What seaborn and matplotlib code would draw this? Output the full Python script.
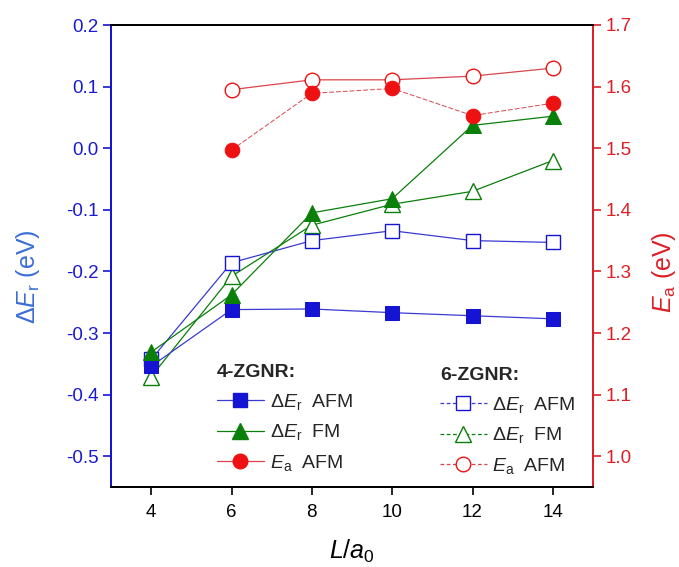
import matplotlib
matplotlib.use("Agg")
import matplotlib.pyplot as plt
import seaborn as sns
import numpy as np
import pandas as pd
from matplotlib.lines import Line2D

# ---- data ----
L = [4, 6, 8, 10, 12, 14]
L_ea = [6, 8, 10, 12, 14]
dEr_afm_4 = [-0.354, -0.262, -0.261, -0.267, -0.272, -0.277]
dEr_fm_4 = [-0.331, -0.238, -0.105, -0.082, 0.037, 0.052]
Ea_afm_4 = [1.497, 1.589, 1.597, 1.553, 1.573]
dEr_afm_6 = [-0.343, -0.186, -0.150, -0.134, -0.150, -0.153]
dEr_fm_6 = [-0.371, -0.208, -0.125, -0.091, -0.070, -0.020]
Ea_afm_6 = [1.595, 1.611, 1.611, 1.617, 1.630]
x_ticks = [4, 6, 8, 10, 12, 14]
left_ticks = [-0.5, -0.4, -0.3, -0.2, -0.1, 0.0, 0.1, 0.2]
right_ticks = [1.0, 1.1, 1.2, 1.3, 1.4, 1.5, 1.6, 1.7]

sns.set_theme(style="white")
plt.rcParams['font.family'] = ['Liberation Sans', 'DejaVu Sans']
plt.rcParams['mathtext.fontset'] = 'custom'
plt.rcParams['mathtext.rm'] = 'Liberation Sans'
plt.rcParams['mathtext.it'] = 'Liberation Sans:italic'
plt.rcParams['mathtext.bf'] = 'Liberation Sans:bold'

BLUE = '#1414d2'
BLUE_LINE = '#3a3ad0'
GREEN = '#0a7f0a'
RED = '#ee1111'
RED_LINE = '#d8454c'
TICK_BLUE = '#1a1ad0'
LABEL_BLUE = '#3b6fd6'
AX_RED = '#dd1f26'

fig = plt.figure(figsize=(6.79, 5.67), dpi=100)
ax = fig.add_axes([111/679, 1-487/567, (593-111)/679, (487-25)/567])
ax2 = ax.twinx()

lw = 0.9
# 6-ZGNR open markers (left axis)
sns.lineplot(x=L, y=dEr_fm_6, ax=ax, color=GREEN, linewidth=lw, marker='^',
             markersize=11, markerfacecolor='white', markeredgecolor=GREEN,
             markeredgewidth=1.0, zorder=3)
sns.lineplot(x=L, y=dEr_afm_6, ax=ax, color=BLUE_LINE, linewidth=lw, marker='s',
             markersize=9.5, markerfacecolor='white', markeredgecolor=BLUE,
             markeredgewidth=1.0, zorder=3)
# 4-ZGNR filled markers
sns.lineplot(x=L, y=dEr_afm_4, ax=ax, color=BLUE_LINE, linewidth=lw, marker='s',
             markersize=9.5, markerfacecolor=BLUE, markeredgecolor=BLUE, zorder=4)
sns.lineplot(x=L, y=dEr_fm_4, ax=ax, color=GREEN, linewidth=lw, marker='^',
             markersize=11, markerfacecolor=GREEN, markeredgecolor=GREEN, zorder=4)

# Ea on right axis
sns.lineplot(x=L_ea, y=Ea_afm_6, ax=ax2, color=RED_LINE, linewidth=lw, marker='o',
             markersize=10.5, markerfacecolor='white', markeredgecolor=RED,
             markeredgewidth=1.0)
sns.lineplot(x=L_ea, y=Ea_afm_4, ax=ax2, color=RED_LINE, linewidth=0.7, marker='o',
             markersize=10.5, markerfacecolor=RED, markeredgecolor=RED,
             linestyle=(0, (5, 2)))

ax.set_xlim(3, 15)
ax.set_ylim(-0.55, 0.2)
ax2.set_ylim(0.95, 1.7)
ax.set_xticks(x_ticks)
ax.set_yticks(left_ticks)
ax2.set_yticks(right_ticks)
ax.set_yticklabels([f"{v:.1f}" for v in left_ticks])
ax2.set_yticklabels([f"{v:.1f}" for v in right_ticks])
ax.set_xticklabels([str(v) for v in x_ticks])

for a in (ax, ax2):
    for s in a.spines.values():
        s.set_linewidth(1.3)
    a.spines['top'].set_color('black')
    a.spines['bottom'].set_color('black')
    a.spines['left'].set_color(BLUE)
    a.spines['right'].set_color(AX_RED)
    a.grid(False)

ax.tick_params(axis='x', direction='out', length=6, width=1.2, colors='black',
               labelsize=13.5, pad=6, bottom=True)
ax.tick_params(axis='y', direction='out', length=6, width=1.2, color=BLUE,
               labelcolor=TICK_BLUE, labelsize=13.5, pad=3, left=True)
ax2.tick_params(axis='y', direction='out', length=6, width=1.2, color=AX_RED,
                labelcolor=AX_RED, labelsize=13.5, pad=3, right=True)

ax.set_xlabel(r'$L/a_{\rm 0}$', fontsize=18, color='black', labelpad=12)
ax.set_ylabel(r'$\Delta E_{\rm r}$ (eV)', fontsize=18, color=LABEL_BLUE)
ax.yaxis.set_label_coords(-0.143, 0.455)
ax2.set_ylabel(r'$E_{\rm a}$ (eV)', fontsize=18, color=AX_RED, rotation=90)
ax2.yaxis.set_label_coords(1.118, 0.465)

# ---- legends ----
h4 = [Line2D([], [], color=BLUE_LINE, lw=lw, marker='s', ms=9.5, mfc=BLUE, mec=BLUE),
      Line2D([], [], color=GREEN, lw=lw, marker='^', ms=11, mfc=GREEN, mec=GREEN),
      Line2D([], [], color=RED_LINE, lw=lw, marker='o', ms=10.5, mfc=RED, mec=RED)]
h6 = [Line2D([], [], color=BLUE_LINE, lw=lw, ls=(0, (3, 2)), marker='s', ms=9.5, mfc='white', mec=BLUE),
      Line2D([], [], color=GREEN, lw=lw, ls=(0, (3, 2)), marker='^', ms=11, mfc='white', mec=GREEN),
      Line2D([], [], color=RED_LINE, lw=lw, ls=(0, (3, 2)), marker='o', ms=10.5, mfc='white', mec=RED)]
labels = [r'$\Delta E_{\rm r}$  AFM', r'$\Delta E_{\rm r}$  FM', r'$E_{\rm a}$  AFM']

leg1 = ax2.legend(h4, labels, title='4-ZGNR:', loc='upper left',
                  bbox_to_anchor=(217/679, 1-364/567), bbox_transform=fig.transFigure,
                  frameon=False, fontsize=14, title_fontsize=14, handlelength=2.4,
                  handletextpad=0.3, labelspacing=0.55, borderpad=0, borderaxespad=0)
leg1._legend_box.align = 'left'
leg1.get_title().set_fontweight('bold')
ax2.add_artist(leg1)
leg2 = ax2.legend(h6, labels, title='6-ZGNR:', loc='upper left',
                  bbox_to_anchor=(440/679, 1-367/567), bbox_transform=fig.transFigure,
                  frameon=False, fontsize=14, title_fontsize=14, handlelength=2.4,
                  handletextpad=0.3, labelspacing=0.55, borderpad=0, borderaxespad=0)
leg2._legend_box.align = 'left'
leg2.get_title().set_fontweight('bold')

fig.savefig('out.png', dpi=100, facecolor='white')
